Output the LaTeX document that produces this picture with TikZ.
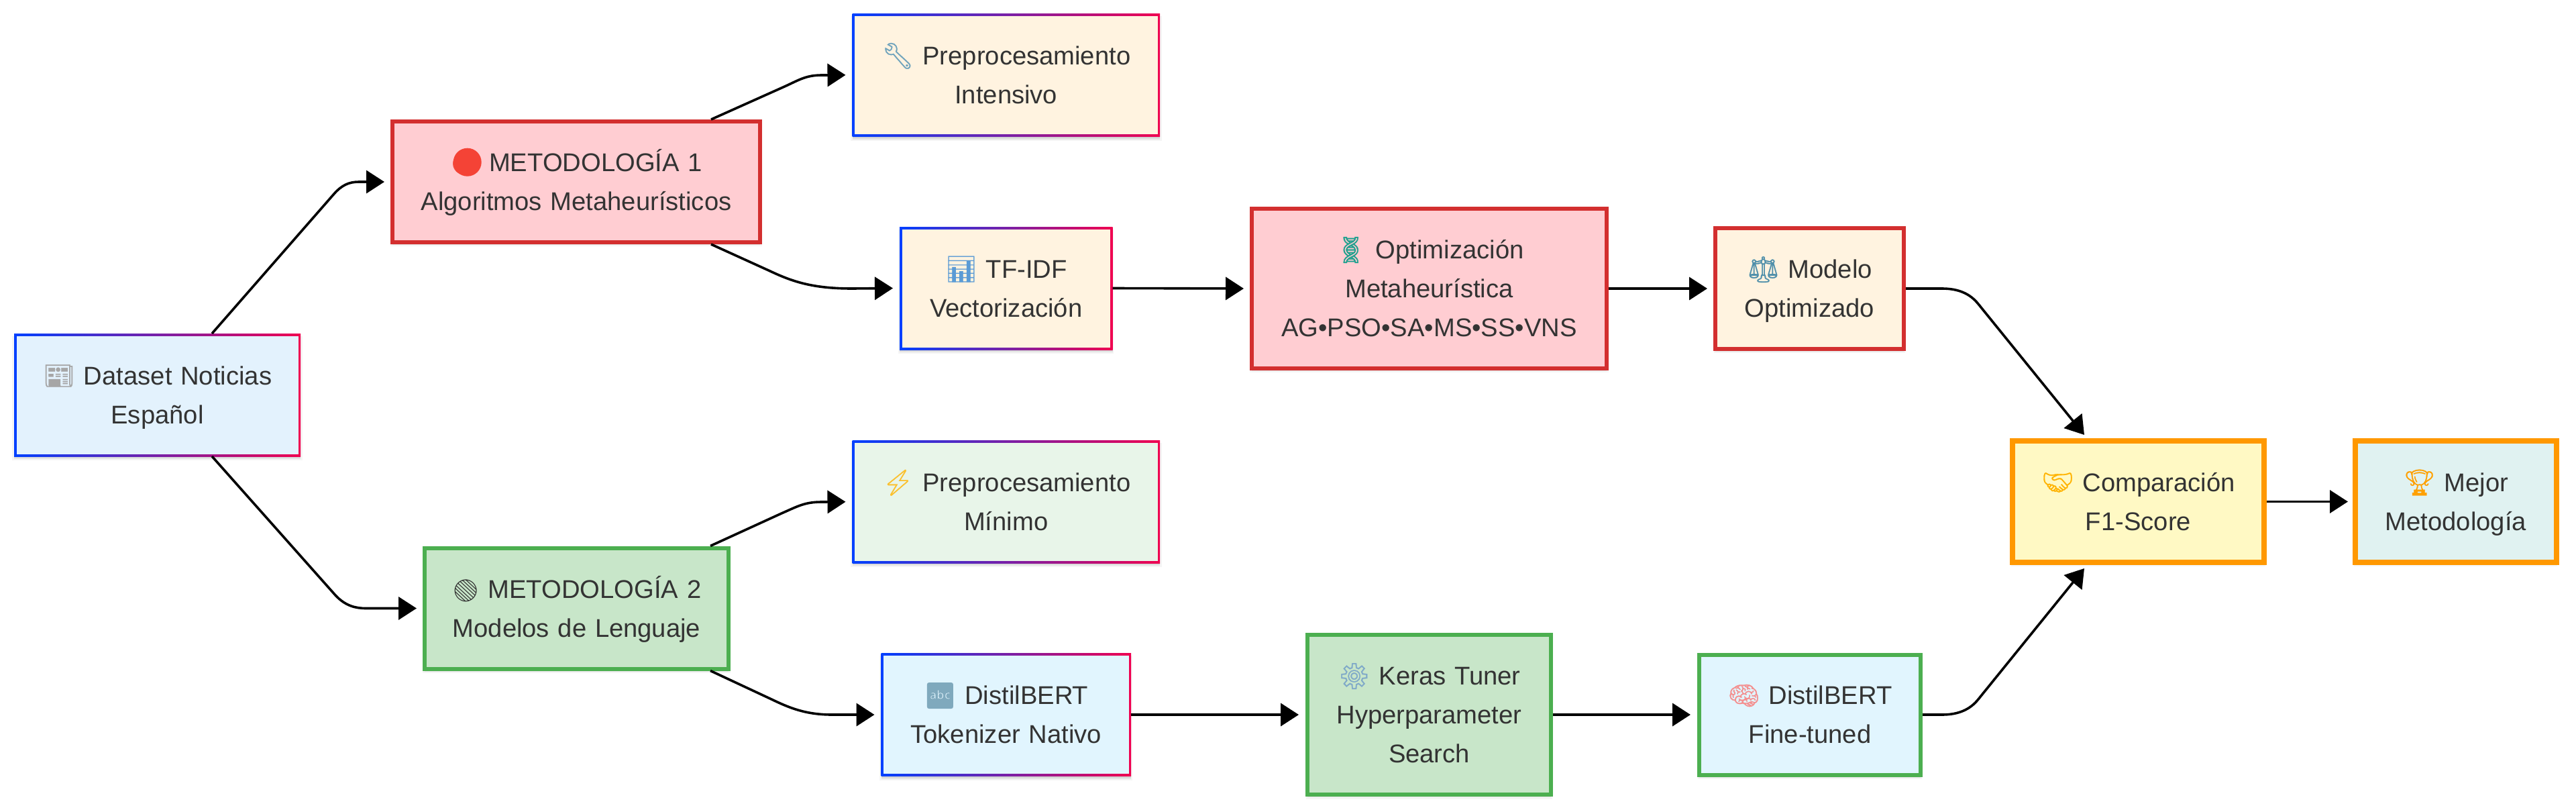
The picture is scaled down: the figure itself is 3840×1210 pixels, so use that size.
\documentclass[tikz,border=0pt]{standalone}
\usepackage{fontspec}
\setmainfont{Liberation Sans}
\newfontfamily\emojifont[FakeBold=0.8]{Noto Emoji}
\newfontfamily\emojiplain[Scale=0.85]{Noto Emoji}
\usetikzlibrary{arrows.meta,shadows,calc}
\definecolor{txt}{HTML}{333333}
\definecolor{gblue}{HTML}{0040FF}
\definecolor{gred}{HTML}{F00050}
\definecolor{redb}{HTML}{D32F2F}
\definecolor{redf}{HTML}{FFCDD2}
\definecolor{ball}{HTML}{F44336}
\definecolor{greenb}{HTML}{4CAF50}
\definecolor{greenf}{HTML}{C8E6C9}
\definecolor{orangeb}{HTML}{FF9800}
\definecolor{yellowf}{HTML}{FFF9C4}
\definecolor{tealf}{HTML}{E0F2F1}
\definecolor{creamf}{HTML}{FFF3E0}
\definecolor{bluef}{HTML}{E3F2FD}
\definecolor{cyanf}{HTML}{E1F5FE}
\definecolor{mintf}{HTML}{E8F5E9}
\newcommand\emj[2]{\smash{\emojifont\textcolor[HTML]{#1}{#2}}}
\tikzset{
  softshadow/.style={
    drop shadow={shadow xshift=0pt,shadow yshift=-2.5pt,shadow scale=1.012,opacity=.04,fill=black},
    drop shadow={shadow xshift=0pt,shadow yshift=-2pt,opacity=.07,fill=black},
    drop shadow={shadow xshift=0pt,shadow yshift=-1pt,opacity=.08,fill=black}},
  basebox/.style={rectangle,align=center,text=txt,inner sep=0pt,softshadow,
    font=\fontsize{19.1pt}{29pt}\selectfont,
    execute at begin node={\rule{0pt}{22.3pt}},execute at end node=\strut},
  size/.style n args={2}{minimum width=#1*0.5pt,minimum height=#2*0.5pt,text width=#1*0.5pt-8pt},
  gradbox/.style={basebox,outer sep=0pt,left color=gblue,right color=gred,
    path picture={\fill[#1]
      ([shift={(1.75pt,1.75pt)}]path picture bounding box.south west) rectangle
      ([shift={(-1.75pt,-1.75pt)}]path picture bounding box.north east);}},
  solidbox/.style n args={3}{basebox,draw=#1,fill=#2,line width=#3*0.5pt},
  ballbehind/.style={path picture={\fill[ball]
      ([shift={(-81.15pt,14.65pt)}]path picture bounding box.center) circle (10.5pt);}},
  link/.style={draw=black,line width=1.8pt,
    -{Triangle[length=13.5pt,width=17pt]}},
}
\begin{document}
\begin{tikzpicture}[x=0.5pt,y=-0.5pt]
\useasboundingbox (0,0) rectangle (3840,1210);
\node[gradbox=bluef,size={427}{183}] (ds) at (234.5,588.5)
  {\emj{A6A6A6}{📰} Dataset Noticias\\Español};
\node[solidbox={redb}{redf}{6},size={548}{180},ballbehind] (m1) at (859,271)
  {\smash{\emojiplain\textcolor{ball}{🔴}}\hspace{2pt} METODOLOGÍA 1\\Algoritmos Metaheurísticos};
\node[solidbox={greenb}{greenf}{6},size={453}{180}] (m2) at (859.5,906.5)
  {\smash{\emojiplain\textcolor[HTML]{333333}{🟢}} METODOLOGÍA 2\\Modelos de Lenguaje};
\node[gradbox=creamf,size={458.5}{183.6}] (p1) at (1499.75,111.8)
  {\emj{6FA3BC}{🔧} Preprocesamiento\\Intensivo};
\node[gradbox=creamf,size={317.5}{183}] (tf) at (1499.75,429.5)
  {\emj{5B9BD5}{📊} TF-IDF\\Vectorización};
\node[gradbox=mintf,size={458.5}{182.5}] (p2) at (1499.75,747.75)
  {\emj{FBC02D}{⚡} Preprocesamiento\\Mínimo};
\node[gradbox=cyanf,size={372.5}{183}] (tk) at (1499.75,1065)
  {\emj{7FA9BD}{🔤} DistilBERT\\Tokenizer Nativo};
\node[solidbox={redb}{redf}{6},size={529}{238}] (op) at (2130.5,430)
  {\emj{1FA08E}{🧬} Optimización\\Metaheurística\\AG•PSO•SA•MS•SS•VNS};
\node[solidbox={greenb}{greenf}{6},size={363}{238}] (kt) at (2130.5,1065)
  {\emj{7FA9C8}{⚙} Keras Tuner\\Hyperparameter\\Search};
\node[solidbox={redb}{creamf}{6},size={281}{180}] (mo) at (2697.5,430)
  {\emj{4F8FAA}{⚖} Modelo\\Optimizado};
\node[solidbox={greenb}{cyanf}{6},size={330}{179}] (ft) at (2698,1065)
  {\emj{F48F8F}{🧠} DistilBERT\\Fine-tuned};
\node[solidbox={orangeb}{yellowf}{8},size={375}{181}] (cp) at (3187.5,747.5)
  {\emj{FFB300}{🤝} Comparación\\F1-Score};
\node[solidbox={orangeb}{tealf}{8},size={299.5}{181}] (be) at (3660.75,747.5)
  {\emj{FFA000}{🏆} Mejor\\Metodología};
% connectors
\draw[link] ([xshift=40.75pt]ds.north) -- (497,290)
  .. controls (509,276) and (520,271) .. (535,271) -- ([xshift=-4.5pt]m1.west);
\draw[link] ([xshift=40.75pt]ds.south) -- (500,887)
  .. controls (515,903) and (530,906.5) .. (546,906.5) -- ([xshift=-4.5pt]m2.west);
\draw[link] ([xshift=100.5pt]m1.north) -- (1165,131)
  .. controls (1190,120) and (1200,112) .. (1225,112) -- ([xshift=-5pt]p1.west);
\draw[link] ([xshift=100.5pt]m1.south) -- (1148,404)
  .. controls (1180,419) and (1210,430) .. (1270,430) -- ([xshift=-5pt]tf.west);
\draw[link] ([xshift=99.75pt]m2.north) -- (1165,765)
  .. controls (1190,754) and (1200,748) .. (1225,748) -- ([xshift=-5pt]p2.west);
\draw[link] ([xshift=99.75pt]m2.south) -- (1150,1042)
  .. controls (1175,1054) and (1200,1065) .. (1240,1065) -- ([xshift=-5pt]tk.west);
\draw[link] (tf.east) -- ([xshift=-4.5pt]op.west);
\draw[link] (op.east) -- ([xshift=-4.5pt]mo.west);
\draw[link] (tk.east) -- ([xshift=-5pt]kt.west);
\draw[link] (kt.east) -- ([xshift=-5pt]ft.west);
\draw[link] (mo.east) -- (2895,430)
  .. controls (2920,430) and (2937,438) .. (2949,453) -- ([xshift=-40.25pt,yshift=2.5pt]cp.north);
\draw[link] (ft.east) -- (2895,1065)
  .. controls (2920,1065) and (2937,1057) .. (2949,1042) -- ([xshift=-40.25pt,yshift=-2.5pt]cp.south);
\draw[link] (cp.east) -- ([xshift=-3.5pt]be.west);
\end{tikzpicture}
\end{document}
